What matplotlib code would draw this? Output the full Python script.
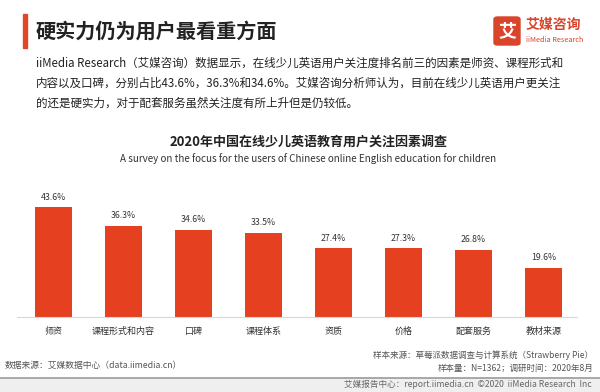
import matplotlib
matplotlib.use("Agg")
import matplotlib.pyplot as plt
from matplotlib.patches import Rectangle, FancyBboxPatch

plt.rcParams['font.family'] = ['Noto Sans CJK SC', 'DejaVu Sans']

# data
categories = ["师资", "课程形式和内容", "口碑", "课程体系", "资质", "价格", "配套服务", "教材来源"]
values = [43.6, 36.3, 34.6, 33.5, 27.4, 27.3, 26.8, 19.6]
value_labels = ["43.6%", "36.3%", "34.6%", "33.5%", "27.4%", "27.3%", "26.8%", "19.6%"]

W, H = 600, 392
fig = plt.figure(figsize=(6, 3.92), dpi=100)
fig.patch.set_facecolor("white")


def fx(px):
    return px / W


def fy(py):
    return 1 - py / H


red = "#E5401F"

# header
fig.patches.append(Rectangle((fx(23), fy(48)), fx(4), 34 / H, transform=fig.transFigure,
                             color="#E0462A"))
fig.text(fx(36), fy(31), "硬实力仍为用户最看重方面", fontsize=14.5, fontweight="bold",
         color="#222222", va="center")

# logo
fig.patches.append(FancyBboxPatch((fx(494), fy(45)), 26 / W, 28 / H, transform=fig.transFigure,
                                  boxstyle="round,pad=0,rounding_size=0.006", color="#D9442B"))
fig.text(fx(507), fy(31), "艾", fontsize=13, fontweight="bold", color="white",
         ha="center", va="center")
fig.text(fx(526), fy(25), "艾媒咨询", fontsize=10, fontweight="bold", color="#D9442B",
         va="center")
fig.text(fx(526), fy(39.5), "iiMedia Research", fontsize=5.3, color="#D9442B", va="center")

# paragraph
para = [
    "iiMedia Research（艾媒咨询）数据显示，在线少儿英语用户关注度排名前三的因素是师资、课程形式和",
    "内容以及口碑，分别占比43.6%，36.3%和34.6%。艾媒咨询分析师认为，目前在线少儿英语用户更关注",
    "的还是硬实力，对于配套服务虽然关注度有所上升但是仍较低。",
]
for i, line in enumerate(para):
    fig.text(fx(36), fy(63 + 20 * i), line, fontsize=8.3, color="#222222", va="center")

# chart titles
fig.text(fx(309), fy(142), "2020年中国在线少儿英语教育用户关注因素调查", fontsize=9.4,
         fontweight="bold", color="#222222", ha="center", va="center")
fig.text(fx(308), fy(159), "A survey on the focus for the users of Chinese online English education for children",
         fontsize=7.1, color="#333333", ha="center", va="center")

# bars
ax = fig.add_axes([fx(17), fy(317.3), 560 / W, 126.1 / H])
x = list(range(len(categories)))
ax.bar(x, values, width=0.53, color=red)
for xi, v, lab in zip(x, values, value_labels):
    ax.text(xi, v + 2.2, lab, ha="center", va="bottom", fontsize=6.3, color="#333333")
ax.set_xlim(-0.52, 7.48)
ax.set_ylim(0, 50)
ax.set_xticks(x)
ax.set_xticklabels(categories, fontsize=6.5, color="#333333")
ax.tick_params(axis="x", length=0, pad=7)
ax.set_yticks([])
for s in ["top", "right", "left"]:
    ax.spines[s].set_visible(False)
ax.spines["bottom"].set_color("#D8D8D8")
ax.spines["bottom"].set_linewidth(0.8)

# footer notes
fig.text(fx(593), fy(355), "样本来源：草莓派数据调查与计算系统（Strawberry Pie）", fontsize=6.15,
         color="#555555", ha="right", va="center")
fig.text(fx(593), fy(368), "样本量：N=1362；调研时间：2020年8月", fontsize=6.15,
         color="#555555", ha="right", va="center")
fig.text(fx(5), fy(365), "数据来源：艾媒数据中心（data.iimedia.cn）", fontsize=6.3,
         color="#555555", ha="left", va="center")

# bottom band
fig.patches.append(Rectangle((0, 0), 1, 14 / H, transform=fig.transFigure, color="#EFEFEF"))
fig.add_artist(plt.Line2D([0, 1], [fy(378), fy(378)], transform=fig.transFigure,
                          color="#9A9A9A", linewidth=1.2))
fig.text(fx(592), fy(384), "艾媒报告中心：report.iimedia.cn  ©2020  iiMedia Research  Inc",
         fontsize=6.2, color="#666666", ha="right", va="center")

fig.savefig("out.png", dpi=100)
